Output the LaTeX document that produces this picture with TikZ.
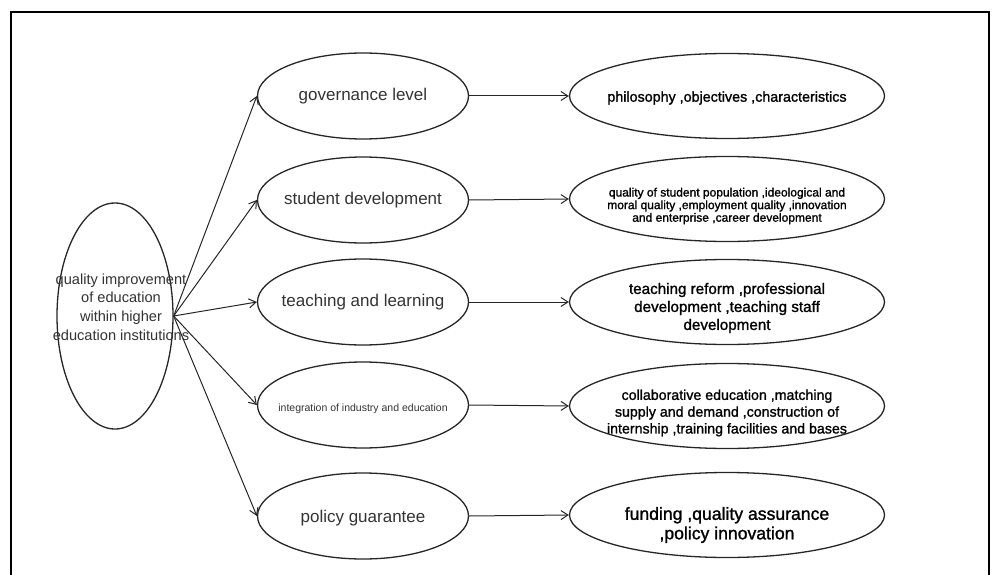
\documentclass[tikz,border=0pt]{standalone}
\usepackage{fontspec}
\setmainfont{Liberation Sans}
\newfontfamily\medfont[FakeBold=1.3]{Liberation Sans}
\usetikzlibrary{shapes.geometric,arrows.meta}

\begin{document}
\begin{tikzpicture}[x=1pt,y=-1pt,
  oval/.style={ellipse, draw=black!85, line width=1.3pt, inner sep=0pt},
  % ellipse of fixed size; its text is a centred label so it does not stretch the shape
  mid/.style n args={3}{oval, minimum width=211pt, minimum height=86pt,
    label={[align=center, text=black!80, font=#1, yshift=#3]center:{#2}}},
  outc/.style n args={3}{oval, minimum width=315pt, minimum height=85pt,
    label={[align=center, font=\medfont#1, yshift=#3]center:{#2}}},
  link/.style={draw=black!85, line width=1pt, -{Straight Barb[length=7pt,width=9pt]}},
]
\useasboundingbox (0,0) rectangle (998,575);
% outer frame (open at the bottom edge of the page)
\draw[line width=2pt] (11,585) -- (11,12) -- (989,12) -- (989,585);

% root
\node[oval, minimum width=116pt, minimum height=226pt] (root) at (115,316) {};
\node[align=center, text=black!80, font=\fontsize{14.6}{18.7}\selectfont] (roottext) at (121,307)
  {quality improvement\\of education\\within higher\\education institutions};

% aspects
\node[mid={\fontsize{17}{20}\selectfont}{governance level}{0pt}] (gov) at (363,96) {};
\node[mid={\fontsize{17}{20}\selectfont}{student development}{0pt}] (stu) at (363,200) {};
\node[mid={\fontsize{17}{20}\selectfont}{teaching and learning}{0pt}] (tea) at (363,302) {};
\node[mid={\fontsize{10.5}{12}\selectfont}{integration of industry and education}{-4pt}] (ind) at (363,405) {};
\node[mid={\fontsize{17}{20}\selectfont}{policy guarantee}{-2pt}] (pol) at (363,516) {};

% contents
\node[outc={\fontsize{14.3}{17}\selectfont}{philosophy ,objectives ,characteristics}{-2pt}] (govc) at (727,96) {};
\node[outc={\fontsize{12}{12.6}\selectfont}{quality of student population ,ideological and\\moral quality ,employment quality ,innovation\\and enterprise ,career development}{-7pt}] (stuc) at (727,199) {};
\node[outc={\fontsize{15.2}{18}\selectfont}{teaching reform ,professional\\development ,teaching staff\\development}{-6pt}] (teac) at (727,302) {};
\node[outc={\fontsize{14.2}{16.8}\selectfont}{collaborative education ,matching\\supply and demand ,construction of\\internship ,training facilities and bases}{-7pt}] (indc) at (727,406) {};
\node[outc={\fontsize{17.6}{19.5}\selectfont}{funding ,quality assurance\\,policy innovation}{-10pt}] (polc) at (727,515) {};

% connectors
\foreach \n in {gov,stu,tea,ind,pol}{
  \draw[link] (root.east) -- (\n.west);
  \draw[link] (\n.east) -- (\n c.west);
}
\end{tikzpicture}
\end{document}
